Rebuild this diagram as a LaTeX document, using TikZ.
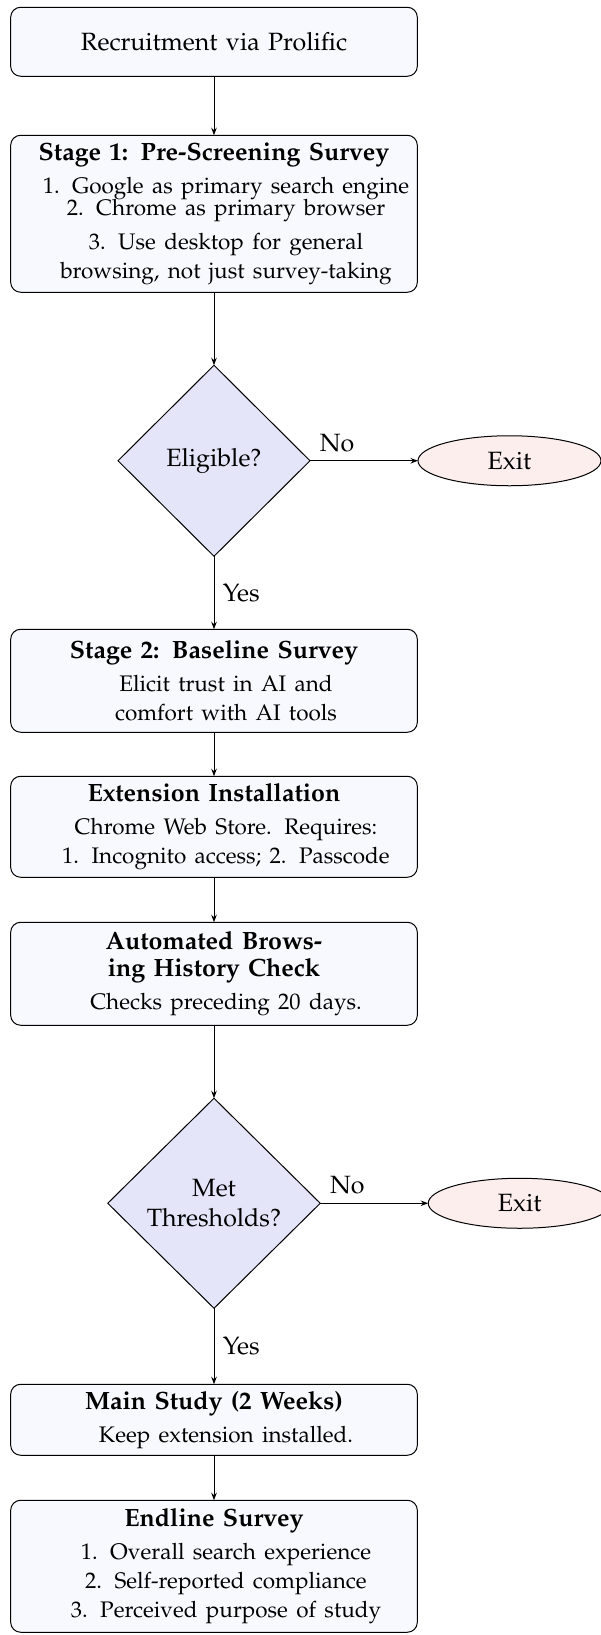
\documentclass[tikz,border=0pt]{standalone}
\usepackage[T1]{fontenc}
\usepackage{mathpazo}
\usetikzlibrary{positioning,shapes.geometric,arrows.meta}

\definecolor{boxfill}{RGB}{248,248,255}
\definecolor{askfill}{RGB}{229,229,250}
\definecolor{exitfill}{RGB}{253,238,238}

% smaller body lines under a bold heading, set a little to the right
\newcommand{\boxnote}[1]{\par\vspace{1.6pt}{\fontsize{9}{11.6}\selectfont
  \advance\leftskip 4.8pt\advance\rightskip -4.8pt\relax #1\par}}

\tikzset{
  stagebox/.style={rectangle, rounded corners=4pt, draw, fill=boxfill,
    text width=156pt, align=center, inner ysep=1.5pt, outer sep=0pt,
    font=\fontsize{10}{10.8}\selectfont},
  decision/.style={diamond, aspect=1, draw, fill=askfill, align=center,
    inner sep=0pt, outer sep=0pt},
  exitnode/.style={ellipse, draw, fill=exitfill, minimum width=73.2pt,
    minimum height=20pt, outer sep=0pt},
  flow/.style={-{Stealth[length=3pt,width=2.2pt]}},
}

\begin{document}
\begin{tikzpicture}[node distance=18pt]
\useasboundingbox (0,0) rectangle (240.4pt,-654pt);

\node[stagebox, minimum height=27.6pt] (recruit) at (85.6pt,-16.7pt) {Recruitment via Prolific};
\node[stagebox, minimum height=62.8pt, below=23.6pt of recruit] (prescreen) {\textbf{Stage 1: Pre-Screening Survey}
  \boxnote{1. Google as primary search engine\\[-2.8pt]
  2. Chrome as primary browser\\[2pt]
  3. Use desktop for general\\ browsing, not just survey-taking}};
\node[decision, minimum width=76.8pt, minimum height=76.4pt, below=29.2pt of prescreen] (eligible) {Eligible?};
\node[exitnode, right=43.2pt of eligible] (exit1) {Exit};
\node[stagebox, minimum height=41.2pt, below=29.2pt of eligible] (baseline) {\textbf{Stage 2: Baseline Survey}
  \boxnote{Elicit trust in AI and\\ comfort with AI tools}};
\node[stagebox, minimum height=40.4pt, below=17.6pt of baseline] (install) {\textbf{Extension Installation}
  \boxnote{Chrome Web Store. Requires:\\ 1. Incognito access; 2. Passcode}};
\node[stagebox, minimum height=41.2pt, below=of install] (history) {\textbf{Automated Brows-\\ing History Check}
  \boxnote{Checks preceding 20 days.}};
\node[decision, minimum width=85pt, minimum height=84pt, below=29.2pt of history] (thresholds) {Met\\Thresholds?};
\node[exitnode, right=43.2pt of thresholds] (exit2) {Exit};
\node[stagebox, minimum height=28.4pt, below=30.4pt of thresholds] (mainstudy) {\textbf{Main Study (2 Weeks)}
  \boxnote{Keep extension installed.}};
\node[stagebox, minimum height=52.8pt, below=of mainstudy] (endline) {\textbf{Endline Survey}
  \boxnote{1. Overall search experience\\ 2. Self-reported compliance\\ 3. Perceived purpose of study}};

% arrows down the column
\draw[flow] (recruit) -- (prescreen);
\draw[flow] (prescreen) -- (eligible);
\draw[flow] (eligible) -- node[above, pos=0.25] {No} (exit1);
\draw[flow] (eligible) -- node[right] {Yes} (baseline);
\draw[flow] (baseline) -- (install);
\draw[flow] (install) -- (history);
\draw[flow] (history) -- (thresholds);
\draw[flow] (thresholds) -- node[above, pos=0.25] {No} (exit2);
\draw[flow] (thresholds) -- node[right] {Yes} (mainstudy);
\draw[flow] (mainstudy) -- (endline);
\end{tikzpicture}
\end{document}
